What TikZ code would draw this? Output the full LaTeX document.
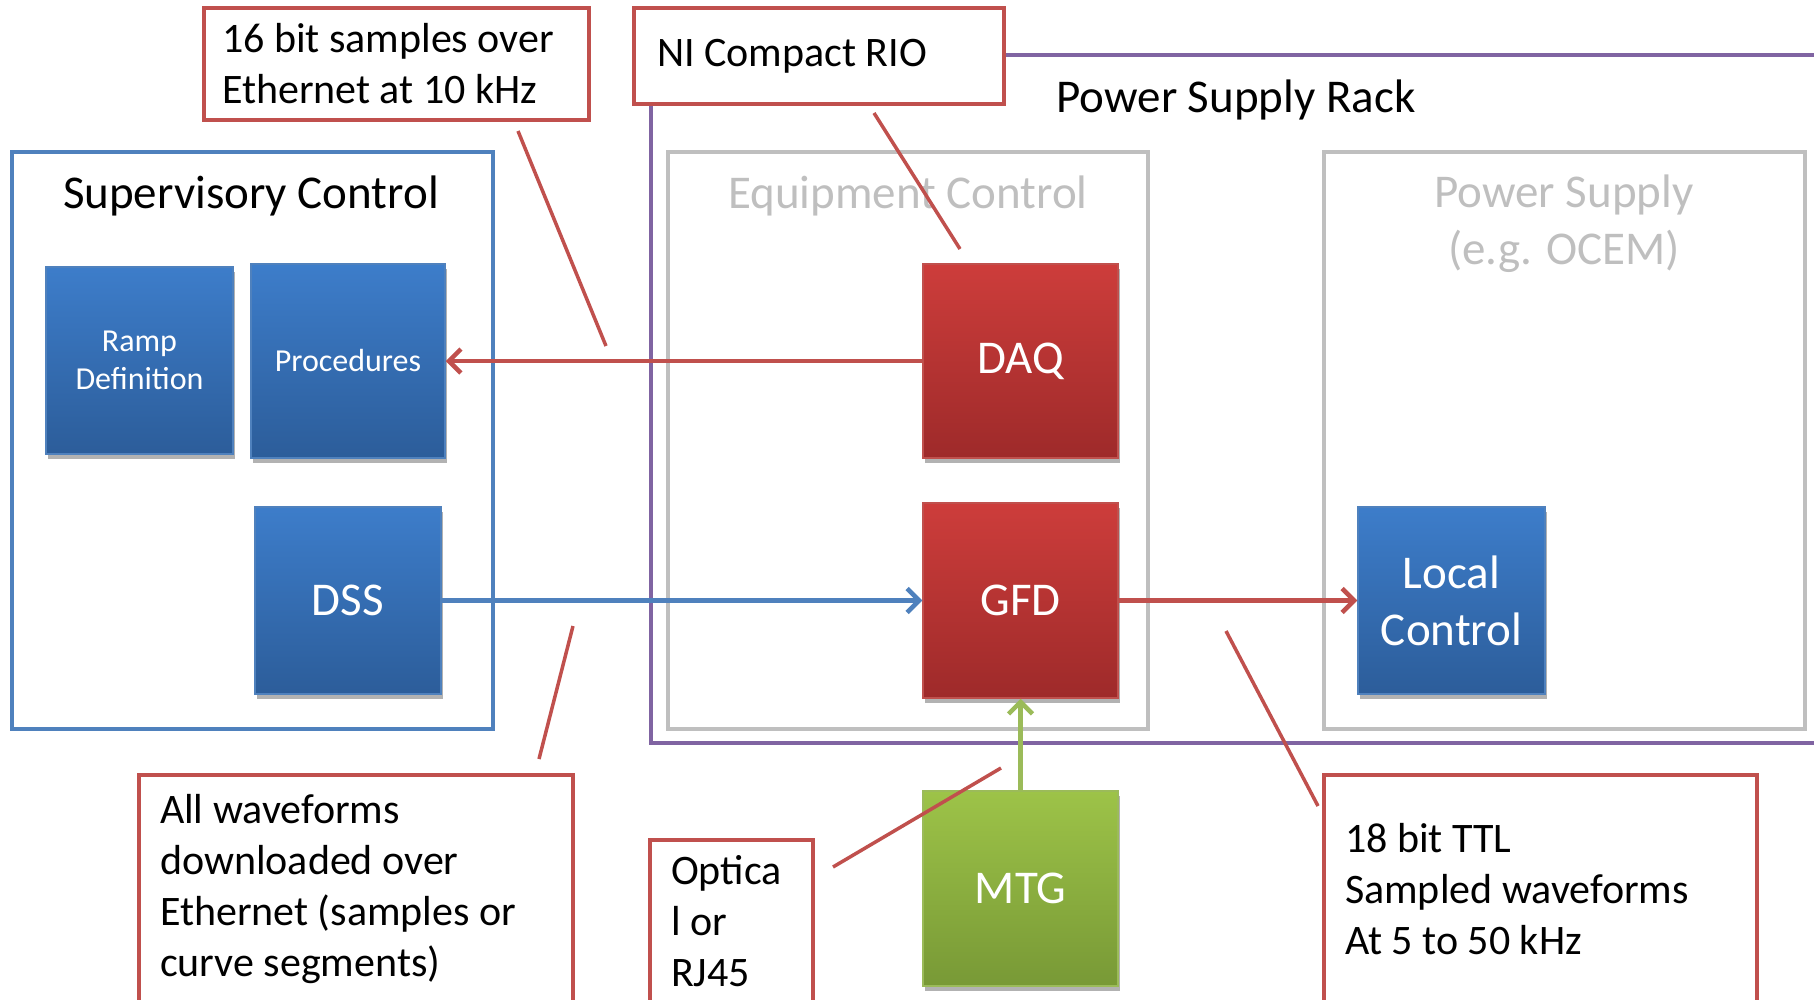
\documentclass[tikz,border=0pt]{standalone}
\usepackage{fontspec}
\setmainfont{Carlito}
\usetikzlibrary{arrows.meta,shadows}

% colours
\definecolor{lineblue}{RGB}{79,129,189}
\definecolor{linered}{RGB}{192,80,77}
\definecolor{linegreen}{RGB}{155,187,89}
\definecolor{linegray}{RGB}{191,191,191}
\definecolor{linepurple}{RGB}{128,100,162}
\definecolor{bluetop}{RGB}{61,125,202}
\definecolor{bluebot}{RGB}{44,93,154}
\definecolor{redtop}{RGB}{205,61,59}
\definecolor{redbot}{RGB}{158,42,42}
\definecolor{greentop}{RGB}{157,195,72}
\definecolor{greenbot}{RGB}{120,153,54}

\tikzset{
  block/.style={draw, line width=1.5pt, inner sep=0pt, text=white, align=center,
    font=\fontsize{47}{57}\selectfont,
    drop shadow={shadow xshift=2pt, shadow yshift=-5pt, opacity=0.3, fill=black}},
  blueblock/.style={block, draw=lineblue, top color=bluetop, bottom color=bluebot},
  redblock/.style={block, draw=linered, top color=redtop, bottom color=redbot},
  greenblock/.style={block, draw=linegreen, top color=greentop, bottom color=greenbot},
  callout/.style={draw=linered, line width=3.5pt, fill=white, align=flush left,
    inner ysep=0pt, font=\fontsize{42}{51}\selectfont},
  pointer/.style={draw=linered, line width=3.5pt},
  frame/.style={line width=4pt},
  title/.style={font=\fontsize{47}{57}\selectfont, align=center},
  flow/.style={line width=4.5pt, -{Straight Barb[length=12pt,width=24pt]}},
}

\begin{document}
\begin{tikzpicture}[x=1pt,y=-1pt]
  \useasboundingbox (0,0) rectangle (1814,999);

  % Frames
  \draw[frame, linepurple] (1830,55) -- (651,55) -- (651,743) -- (1830,743);
  \draw[frame, linegray] (668,152) rectangle (1148,729);
  \draw[frame, linegray] (1324,152) rectangle (1805,729);
  \draw[frame, lineblue, line width=3.5pt] (12,152) rectangle (493,729);

  % Frame titles
  \node[title] (suptitle) at (251,196) {Supervisory Control};
  \node[title, text=linegray] (eqtitle) at (908,196) {Equipment Control};
  \node[title, text=linegray] (pstitle) at (1564,224) {Power Supply\\(e.g. OCEM)};
  \node[title] (racktitle) at (1236,100) {Power Supply Rack};

  % Blocks
  \node[blueblock, minimum width=187pt, minimum height=187pt, font=\fontsize{32}{38}\selectfont]
    (ramp) at (139.5,360.5) {Ramp\\Definition};
  \node[blueblock, minimum width=194pt, minimum height=194pt, font=\fontsize{32}{38}\selectfont]
    (proc) at (348,361) {Procedures};
  \node[blueblock, minimum width=186pt, minimum height=187pt] (dss) at (348,600.5) {DSS};
  \node[redblock, minimum width=195pt, minimum height=194pt] (daq) at (1020.5,361) {DAQ};
  \node[redblock, minimum width=195pt, minimum height=195pt] (gfd) at (1020.5,600.5) {GFD};
  \node[blueblock, minimum width=187pt, minimum height=187pt] (local) at (1451.5,600.5) {Local\\Control};
  \node[greenblock, minimum width=195pt, minimum height=195pt] (mtg) at (1020.5,888.5) {MTG};

  % Data paths
  \draw[flow, linered] (daq.west) -- (proc.east);
  \draw[flow, lineblue] (dss.east) -- (gfd.west);
  \draw[flow, linered] (gfd.east) -- (local.west);
  \draw[flow, linegreen] (mtg.north) -- (gfd.south);

  % Callouts
  \node[callout, text width=349pt, inner xsep=18pt, minimum height=112pt]
    (ethnote) at (396.5,64) {16 bit samples over\\Ethernet at 10 kHz};
  \node[callout, text width=324pt, inner xsep=23pt, minimum height=96pt]
    (rionote) at (819,56) {NI Compact RIO};
  \node[callout, text width=392pt, inner xsep=21pt, minimum height=229pt]
    (wavenote) at (356,889.5) {All waveforms\\downloaded over\\Ethernet (samples or\\curve segments)};
  \node[callout, text width=121pt, inner xsep=21pt, minimum height=163pt]
    (optnote) at (731.5,921.5) {Optica\\l or\\RJ45};
  \node[callout, text width=391pt, inner xsep=21pt, minimum height=229pt]
    (ttlnote) at (1540.5,889.5) {18 bit TTL\\Sampled waveforms\\At 5 to 50 kHz};

  % Pointer lines
  \coordinate (eth1) at (518,131);  \coordinate (eth2) at (606,346);
  \coordinate (rio1) at (874,113);  \coordinate (rio2) at (960,249);
  \coordinate (wav1) at (539,759);  \coordinate (wav2) at (573,626);
  \coordinate (opt1) at (833,867);  \coordinate (opt2) at (1001,768);
  \coordinate (ttl1) at (1318,806); \coordinate (ttl2) at (1226,631);
  \draw[pointer] (eth1) -- (eth2);
  \draw[pointer] (rio1) -- (rio2);
  \draw[pointer] (wav1) -- (wav2);
  \draw[pointer] (opt1) -- (opt2);
  \draw[pointer] (ttl1) -- (ttl2);
\end{tikzpicture}
\end{document}
